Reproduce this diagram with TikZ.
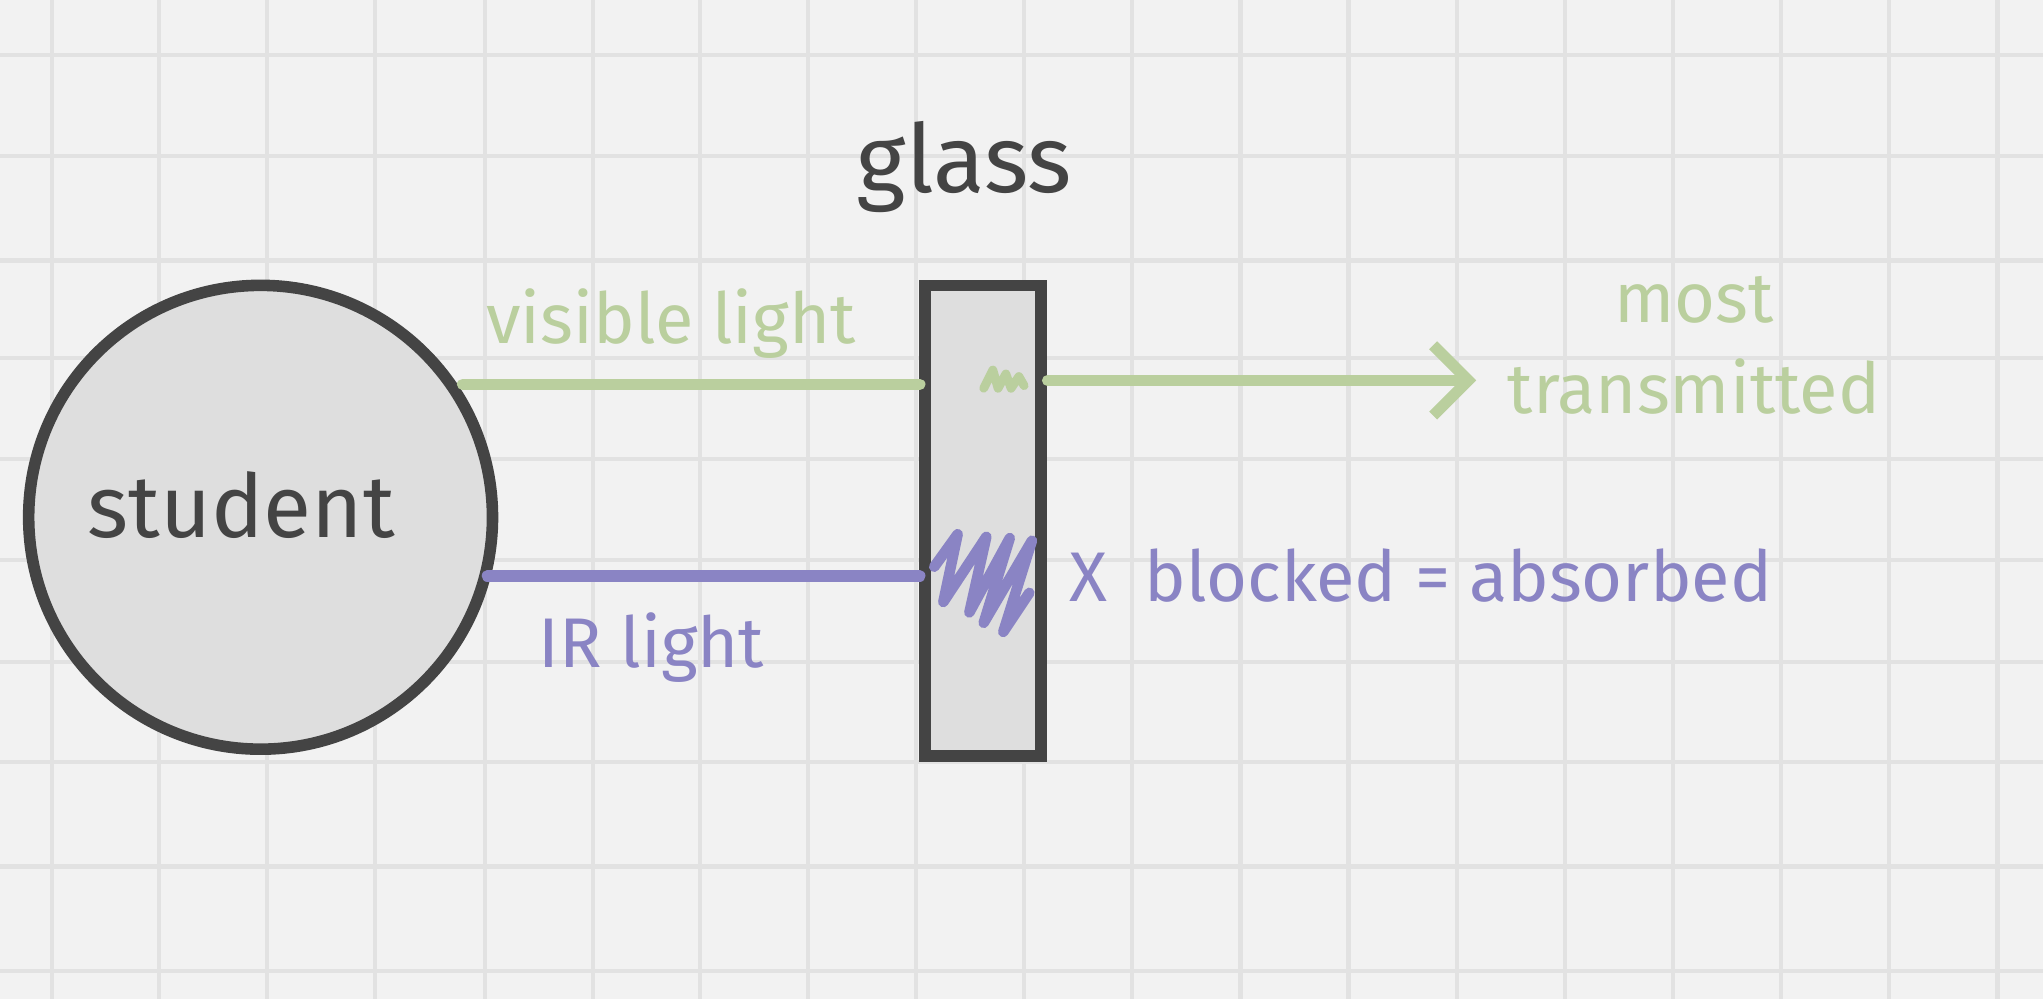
\documentclass[tikz,border=0pt]{standalone}
\usepackage{fontspec}
\setmainfont{Fira Sans}
\usetikzlibrary{arrows.meta}
\definecolor{bg}{HTML}{F2F2F2}
\definecolor{gridc}{HTML}{E2E2E2}
\definecolor{ink}{HTML}{444444}
\definecolor{vis}{HTML}{BACF9E}
\definecolor{ir}{HTML}{8A84C4}
\definecolor{fillc}{HTML}{DEDEDE}
\begin{document}
\begin{tikzpicture}[x=0.01303cm,y=-0.01303cm,
  lbl/.style={font=\fontsize{20}{24}\selectfont, inner sep=0pt},
  ray/.style={line width=3.2pt, line cap=round}]
\fill[bg] (0,0) rectangle (1568,767);
\useasboundingbox (0,0) rectangle (1568,767);
\foreach \x in {40,122,205,288,372,455,537,620,703,786,869,952,1035,1118,1201,1284,1367,1450,1533}
  \draw[gridc, line width=1.2pt] (\x,0) -- (\x,767);
\foreach \y in {42,120,200,275,352,430,508,585,665,745}
  \draw[gridc, line width=1.2pt] (0,\y) -- (1568,\y);
% student
\node[circle, draw=ink, fill=fillc, line width=3.3pt, minimum size=356*0.01303cm, inner sep=0pt] (s) at (200,397) {};
\node[lbl, font=\fontsize{25}{30}\selectfont, text=ink] (st) at (185,388) {student};
% glass
\node[draw=ink, fill=fillc, line width=3.3pt, minimum width=89*0.01303cm, minimum height=361*0.01303cm, inner sep=0pt] (g) at (754.5,399.5) {};
\node[lbl, font=\fontsize{27}{32}\selectfont, text=ink] (gl) at (740,128) {glass};
% visible
\coordinate (v1) at (355,295);
\coordinate (v2) at (706,295);
\coordinate (v3) at (804,292);
\coordinate (v4) at (1133,292);
\draw[ray, vis] (v1) -- (v2);
\draw[ray, vis, -{Straight Barb[length=10pt,width=20pt,line width=3.2pt]}] (v3) -- (v4);
\draw[vis, line width=2.5pt, line cap=round, line join=round] (755,298) -- (762,284) -- (766,298) -- (772,287) -- (776,298) -- (782,289) -- (786,296);
\node[lbl, text=vis] (vl) at (515,248) {visible light};
\node[lbl, text=vis, align=center] (mt) at (1300,265) {most\\[2pt]transmitted};
% IR
\coordinate (i1) at (374,442);
\coordinate (i2) at (706,442);
\draw[ray, ir] (i1) -- (i2);
\draw[ir, line width=3pt, line cap=round, line join=round] (717,435) -- (735,410) -- (724,462) -- (757,412) -- (744,470) -- (775,413) -- (755,478) -- (792,415) -- (770,485) -- (790,455);
\node[lbl, text=ir] (irl) at (500,497) {IR light};
\node[lbl, text=ir, anchor=west] (ab) at (820,442) {X\ \ blocked = absorbed};
\end{tikzpicture}
\end{document}
